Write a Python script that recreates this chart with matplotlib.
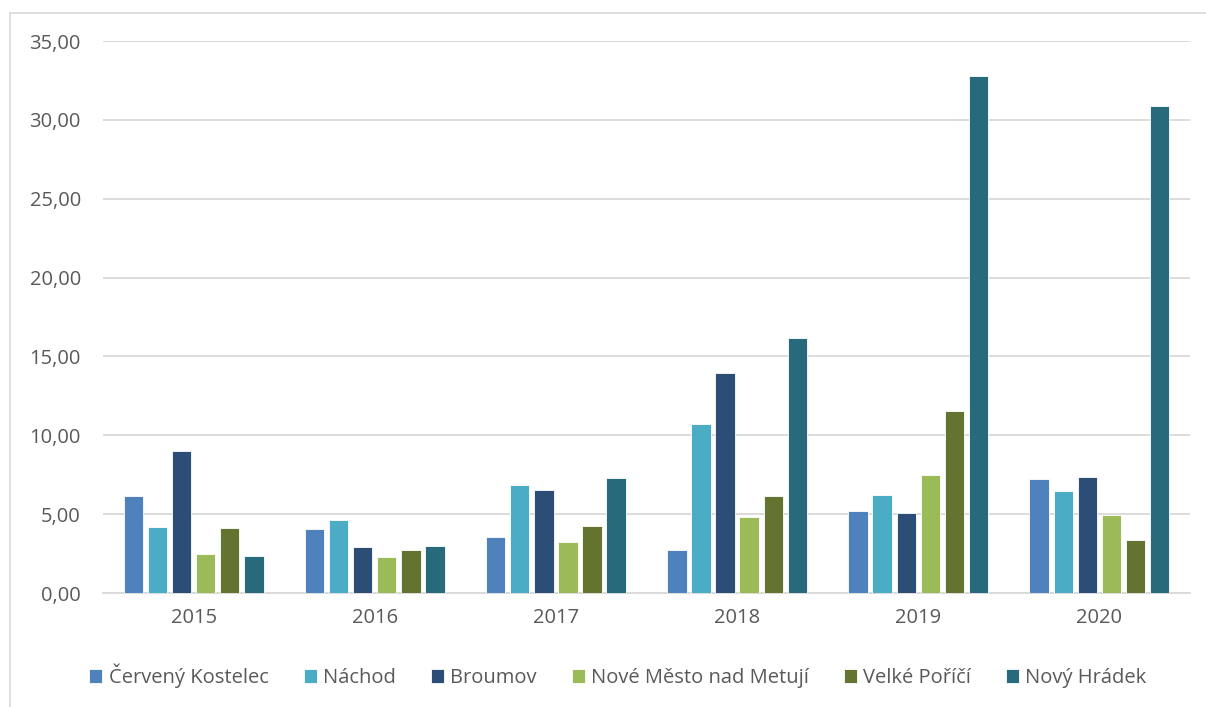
import matplotlib.pyplot as plt
import numpy as np
from matplotlib.lines import Line2D

plt.rcParams['font.family'] = ['Open Sans', 'DejaVu Sans']

years = ['2015', '2016', '2017', '2018', '2019', '2020']
cervkost = [6.12, 4.07, 3.56, 2.75, 5.19, 7.22]
nachod = [4.21, 4.60, 6.82, 10.70, 6.24, 6.46]
broumov = [8.98, 2.92, 6.55, 13.92, 5.10, 7.35]
nove_mesto = [2.50, 2.29, 3.22, 4.79, 7.46, 4.92]
velke_porici = [4.15, 2.71, 4.24, 6.12, 11.55, 3.35]
novy_hradek = [2.35, 2.96, 7.31, 16.15, 32.80, 30.90]

names = ['Červený Kostelec', 'Náchod', 'Broumov', 'Nové Město nad Metují', 'Velké Poříčí', 'Nový Hrádek']
series = [cervkost, nachod, broumov, nove_mesto, velke_porici, novy_hradek]
colors = ['#4F81BD', '#4BACC6', '#2C4D75', '#9BBB59', '#627430', '#276A7C']

fig = plt.figure(figsize=(12.06, 7.07), dpi=100)
ax = fig.add_axes([103/1206, 1-593/707, (1190-103)/1206, (593-41)/707])

x = np.arange(len(years))
pitch = 0.133
w = 0.107
for i, (name, vals, c) in enumerate(zip(names, series, colors)):
    ax.bar(x + (i - 2.5) * pitch, vals, width=w, color=c, edgecolor='white', linewidth=0.6, label=name, zorder=3)

ax.set_xlim(-0.5, 5.5)
ax.set_ylim(0, 35)
ax.set_yticks(np.arange(0, 36, 5))
ax.set_yticklabels([f'{v:.2f}'.replace('.', ',') for v in np.arange(0, 36, 5)])
ax.set_xticks(x)
ax.set_xticklabels(years)
ax.tick_params(axis='both', length=0, labelsize=14.5, colors='#595959')
ax.tick_params(axis='y', pad=16)
ax.tick_params(axis='x', pad=11)
ax.grid(axis='y', color='#D9D9D9', linewidth=1.3, zorder=0)
for s in ['top', 'right', 'left']:
    ax.spines[s].set_visible(False)
ax.spines['bottom'].set_color('#D9D9D9')
ax.spines['bottom'].set_linewidth(1.3)

fig.legend(loc='center', bbox_to_anchor=(618/1206, 1-676/707), ncol=6, frameon=False,
           fontsize=14.5, labelcolor='#595959', handlelength=0.65, handleheight=0.65,
           handletextpad=0.3, columnspacing=1.75)

# chart area border
fig.add_artist(Line2D([10/1206, 10/1206], [0, 1-13/707], color='#D9D9D9', linewidth=1.2))
fig.add_artist(Line2D([10/1206, 1], [1-13/707, 1-13/707], color='#D9D9D9', linewidth=1.2))

fig.savefig('out.png', dpi=100)
